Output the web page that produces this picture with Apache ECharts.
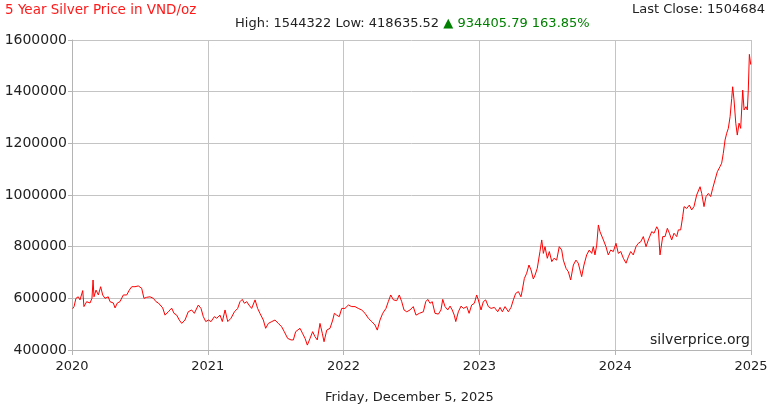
<!DOCTYPE html>
<html>
<head>
<meta charset="utf-8">
<script src="https://cdn.jsdelivr.net/npm/echarts@6/dist/echarts.min.js"></script>
<style>
html,body{margin:0;padding:0;background:#fff;}
#chart{width:770px;height:410px;}
</style>
</head>
<body>
<div id="chart"></div>
<script>
// Years elapsed since the first axis tick (2020)
var yearOffsets = [
0.005,0.015,0.029,0.046,0.059,0.079,0.088,0.108,0.133,0.147,0.155,0.162,0.177,0.194,0.211,0.226,0.243,0.267,0.280,0.304,
0.317,0.334,0.353,0.378,0.403,0.422,0.440,0.464,0.488,0.513,0.530,0.550,0.574,0.599,0.619,0.636,0.648,0.668,0.685,0.709,
0.734,0.751,0.771,0.790,0.808,0.832,0.856,0.881,0.901,0.930,0.950,0.967,0.985,1.004,1.024,1.048,1.066,1.090,1.107,1.127,
1.147,1.171,1.196,1.220,1.237,1.254,1.269,1.287,1.303,1.323,1.348,1.367,1.384,1.409,1.426,1.446,1.471,1.495,1.519,1.544,
1.563,1.588,1.613,1.630,1.647,1.679,1.697,1.716,1.733,1.753,1.772,1.789,1.806,1.826,1.843,1.856,1.876,1.900,1.920,1.932,
1.949,1.968,1.986,2.010,2.035,2.060,2.084,2.108,2.133,2.158,2.182,2.207,2.231,2.248,2.268,2.288,2.312,2.329,2.347,2.367,
2.391,2.410,2.428,2.445,2.465,2.489,2.513,2.533,2.558,2.587,2.605,2.620,2.636,2.653,2.673,2.698,2.717,2.730,2.747,2.767,
2.784,2.800,2.815,2.826,2.845,2.865,2.882,2.907,2.924,2.943,2.963,2.980,2.992,3.012,3.029,3.046,3.066,3.086,3.110,3.135,
3.152,3.169,3.189,3.213,3.233,3.250,3.267,3.287,3.306,3.316,3.331,3.348,3.365,3.380,3.397,3.410,3.426,3.446,3.459,3.471,
3.483,3.500,3.515,3.533,3.549,3.569,3.588,3.606,3.618,3.638,3.655,3.672,3.692,3.711,3.728,3.753,3.770,3.790,3.809,3.827,
3.839,3.851,3.864,3.876,3.888,3.901,3.913,3.932,3.949,3.967,3.986,4.006,4.023,4.041,4.060,4.080,4.097,4.114,4.133,4.153,
4.170,4.188,4.207,4.227,4.244,4.269,4.286,4.306,4.318,4.330,4.343,4.350,4.367,4.384,4.399,4.416,4.433,4.453,4.465,4.482,
4.497,4.507,4.527,4.546,4.563,4.580,4.600,4.612,4.625,4.637,4.654,4.669,4.686,4.703,4.718,4.735,4.752,4.772,4.784,4.796,
4.809,4.821,4.833,4.846,4.858,4.865,4.875,4.888,4.899,4.912,4.924,4.939,4.949,4.963,4.973,4.980,4.988,4.998
];
// Silver price, VND per ounce
var priceValues = [
560000,568000,600000,606000,594000,630000,568000,587000,582000,600000,671000,606000,632000,613000,645000,613000,600000,606000,587000,582000,
563000,582000,587000,613000,613000,632000,645000,645000,648000,639000,600000,604000,606000,600000,587000,582000,586000,563000,535000,548000,
562000,542000,535000,516000,503000,516000,548000,555000,542000,574000,561000,529000,510000,516000,510000,529000,523000,535000,510000,555000,
510000,523000,548000,561000,587000,596000,581000,587000,574000,561000,594000,561000,542000,516000,484000,503000,510000,516000,503000,490000,
471000,445000,439000,439000,471000,484000,465000,445000,419000,445000,471000,452000,439000,503000,465000,432000,477000,484000,516000,542000,
535000,529000,561000,561000,574000,568000,568000,561000,555000,542000,523000,510000,497000,477000,516000,542000,561000,587000,613000,594000,
591000,613000,587000,555000,548000,555000,568000,535000,542000,548000,587000,596000,581000,587000,542000,539000,555000,596000,568000,555000,
570000,555000,535000,510000,548000,570000,561000,568000,542000,574000,581000,613000,594000,555000,587000,594000,568000,561000,565000,548000,
565000,548000,568000,548000,565000,594000,619000,626000,606000,632000,677000,697000,729000,710000,675000,690000,716000,781000,826000,774000,
800000,755000,781000,742000,755000,748000,800000,787000,748000,716000,703000,671000,729000,748000,736000,684000,729000,768000,787000,774000,
800000,768000,806000,884000,858000,865000,826000,800000,768000,787000,781000,813000,774000,781000,755000,736000,761000,781000,768000,800000,
813000,819000,839000,800000,826000,858000,852000,877000,865000,768000,768000,839000,839000,871000,852000,826000,852000,839000,865000,865000,
916000,955000,948000,961000,942000,955000,1000000,994000,1032000,1006000,955000,994000,1006000,994000,1026000,1058000,1090000,1110000,1123000,1161000,
1213000,1239000,1258000,1303000,1374000,1419000,1368000,1278000,1232000,1278000,1258000,1406000,1329000,1342000,1329000,1406000,1544322,1504684
];
var xTickLabels = ['2020','2021','2022','2023','2024','2025'];
var yTickValues = [400000,600000,800000,1000000,1200000,1400000,1600000];

var chartTitle = '5 Year Silver Price in VND/oz';
var statsText = 'High: 1544322 Low: 418635.52 ';
var changeText = '\u25B2 934405.79 163.85%';
var lastCloseText = 'Last Close: 1504684';
var dateText = 'Friday, December 5, 2025';
var sourceText = 'silverprice.org';

var FONT = 'DejaVu Sans';
var chart = echarts.init(document.getElementById('chart'), null, {renderer: 'canvas'});
var seriesData = yearOffsets.map(function (t, i) { return [t, priceValues[i]]; });

chart.setOption({
  animation: false,
  backgroundColor: '#ffffff',
  textStyle: {fontFamily: FONT},
  grid: {left: 72, right: 19, top: 40, bottom: 60, containLabel: false, outerBoundsMode: 'none'},
  xAxis: {
    type: 'value', min: 0, max: xTickLabels.length - 1, interval: 1,
    axisLine: {show: true, lineStyle: {color: '#b4b4b4', width: 1}},
    axisTick: {show: true, length: 5, lineStyle: {color: '#b4b4b4'}},
    axisLabel: {margin: 10, color: '#222', fontSize: 13, fontFamily: FONT,
      formatter: function (v) { return xTickLabels[Math.round(v)] || ''; }},
    splitLine: {show: true, lineStyle: {color: '#c4c4c4', width: 1}}
  },
  yAxis: {
    type: 'value', min: yTickValues[0], max: yTickValues[yTickValues.length - 1], interval: 200000,
    axisLine: {show: true, lineStyle: {color: '#b4b4b4', width: 1}},
    axisTick: {show: true, length: 4, lineStyle: {color: '#b4b4b4'}},
    axisLabel: {margin: 5, color: '#222', fontSize: 14, fontFamily: FONT,
      formatter: function (v) { return String(v); }},
    splitLine: {show: true, lineStyle: {color: '#c4c4c4', width: 1}}
  },
  series: [{
    type: 'line', data: seriesData, showSymbol: false, symbol: 'none',
    lineStyle: {color: '#ff0000', width: 1}, z: 5
  }],
  graphic: [
    {type: 'text', left: 5, top: 3, style: {text: chartTitle, fill: '#ff1a1a', font: '13.5px "DejaVu Sans"'}},
    {type: 'text', right: 5, top: 3, style: {text: lastCloseText, fill: '#222', font: '13px "DejaVu Sans"'}},
    {type: 'text', left: 235, top: 17, style: {
      text: '{a|' + statsText + '}{b|' + changeText + '}',
      rich: {a: {fill: '#222', fontSize: 13, fontFamily: FONT}, b: {fill: '#008000', fontSize: 13, fontFamily: FONT}}
    }},
    {type: 'text', left: 325, top: 391, style: {text: dateText, fill: '#222', font: '13px "DejaVu Sans"'}},
    {type: 'text', right: 20, top: 333, z: 10, style: {text: sourceText, fill: '#222', font: '14px "DejaVu Sans"'}}
  ]
});
</script>
</body>
</html>
